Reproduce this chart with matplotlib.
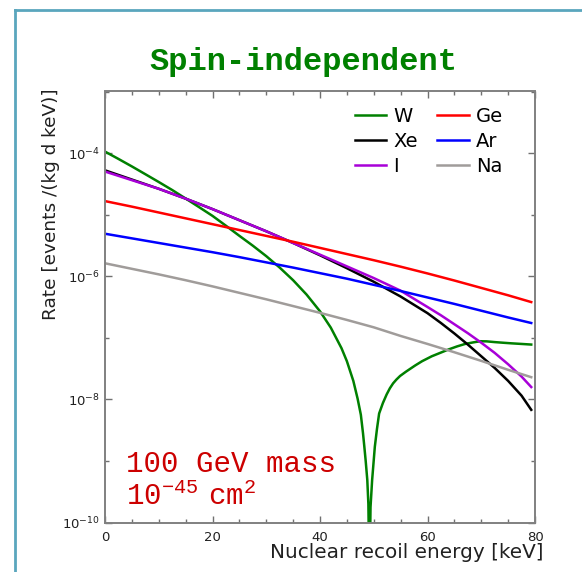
import numpy as np
import matplotlib
matplotlib.use("Agg")
import matplotlib.pyplot as plt
from matplotlib.lines import Line2D
from matplotlib.ticker import FixedLocator, NullFormatter

plt.rcParams['mathtext.rm'] = 'Liberation Mono'

# Recoil spectra (log10 of rate in events/(kg d keV)) versus recoil energy in keV
energy = [0, 5, 10, 15, 20, 25, 30, 35, 40, 45, 50, 55, 60, 65, 70, 75, 79.3]
log_ge = [-4.78, -4.87, -4.965, -5.06, -5.155, -5.25, -5.345, -5.44, -5.54, -5.64,
          -5.74, -5.845, -5.955, -6.07, -6.19, -6.31, -6.42]
log_ar = [-5.31, -5.385, -5.46, -5.535, -5.61, -5.69, -5.775, -5.86, -5.95, -6.04,
          -6.14, -6.24, -6.345, -6.45, -6.56, -6.67, -6.76]
log_na = [-5.79, -5.88, -5.97, -6.065, -6.165, -6.27, -6.375, -6.485, -6.595, -6.71,
          -6.83, -6.97, -7.10, -7.235, -7.375, -7.52, -7.64]

# Xenon and iodine bend down faster at high energy, so they are sampled more finely there
energy_heavy = [0, 5, 10, 15, 20, 25, 30, 35, 40, 45, 50, 55, 60, 62.5, 65, 67.5,
                70, 72.5, 75, 77.5, 79.3]
log_xe = [-4.28, -4.43, -4.58, -4.74, -4.91, -5.09, -5.27, -5.46, -5.66, -5.87,
          -6.09, -6.33, -6.60, -6.76, -6.93, -7.11, -7.30, -7.49, -7.70, -7.94, -8.17]
log_i = [-4.30, -4.44, -4.58, -4.74, -4.91, -5.09, -5.27, -5.46, -5.65, -5.84,
         -6.03, -6.235, -6.50, -6.635, -6.78, -6.925, -7.08, -7.245, -7.43, -7.63, -7.80]

# Tungsten has a form-factor zero near 49 keV
energy_w = [0, 2.5, 5, 7.5, 10, 12.5, 15, 17.5, 20, 22.5, 25, 27.5, 30, 32.5, 35,
            37.5, 40, 42, 44, 45, 46.2, 47, 47.6, 48.0, 48.25, 48.5, 48.8, 49.0,
            49.2, 49.4, 49.7, 50.2, 50.6, 51.0, 51.7, 52.4, 53.0, 53.6, 54.2, 54.9,
            56, 57.7, 59, 60.8, 62.5, 63.9, 65.5, 67, 68.5, 69.8, 71, 72.5, 74,
            75.6, 77.5, 79.3]
log_w = [-3.976, -4.095, -4.217, -4.343, -4.47, -4.60, -4.738, -4.878, -5.02, -5.18,
         -5.344, -5.504, -5.674, -5.86, -6.065, -6.298, -6.57, -6.834, -7.169, -7.38,
         -7.70, -7.99, -8.25, -8.55, -8.77, -9.0, -9.31, -9.7,
         -11.0, -9.75, -9.31, -8.77, -8.48, -8.23, -8.06, -7.92, -7.82, -7.74, -7.68,
         -7.62, -7.55, -7.45, -7.38, -7.30, -7.24, -7.19, -7.14, -7.10, -7.075,
         -7.056, -7.058, -7.07, -7.08, -7.09, -7.10, -7.11]

series = [
    ("W", energy_w, log_w, "#008000"),
    ("Xe", energy_heavy, log_xe, "#000000"),
    ("I", energy_heavy, log_i, "#a800d8"),
    ("Ge", energy, log_ge, "#ff0000"),
    ("Ar", energy, log_ar, "#0000ff"),
    ("Na", energy, log_na, "#a09c9a"),
]

x_major = [0, 20, 40, 60, 80]
y_labelled = [1e-10, 1e-8, 1e-6, 1e-4]
y_unlabelled = [1e-9, 1e-7, 1e-5, 1e-3]

fig = plt.figure(figsize=(5.82, 5.72), dpi=100)
ax = fig.add_axes([105 / 582, 1 - 522.5 / 572, 430 / 582, 431 / 572])

for name, e, lr, col in series:
    ax.plot(e, 10.0 ** np.asarray(lr), color=col, lw=1.8, label=name,
            solid_joinstyle='round')

ax.set_yscale('log')
ax.set_xlim(0, 80)
ax.set_ylim(1e-10, 1e-3)

ax.xaxis.set_major_locator(FixedLocator(x_major))
ax.xaxis.set_minor_locator(FixedLocator(np.arange(0, 81, 5)))
ax.yaxis.set_major_locator(FixedLocator(y_labelled))
ax.yaxis.set_minor_locator(FixedLocator(y_unlabelled))
ax.yaxis.set_minor_formatter(NullFormatter())
ax.set_yticklabels([r'$10^{-10}$', r'$10^{-8}$', r'$10^{-6}$', r'$10^{-4}$'])
ax.tick_params(which='both', direction='in', top=True, right=True,
               color='#707070', labelsize=9.5, labelcolor='#202020')
ax.tick_params(axis='x', which='major', pad=6)
ax.tick_params(which='major', length=5, width=1)
ax.tick_params(which='minor', length=3, width=1)
for s in ax.spines.values():
    s.set_color('#808080')
    s.set_linewidth(1.4)

leg = ax.legend(ncol=2, loc='upper right', bbox_to_anchor=(1 - 16 / 430, 1),
                frameon=False, fontsize=14, handlelength=1.6, handletextpad=0.4,
                columnspacing=1.0, labelspacing=0.3, borderaxespad=0.4)

ax.text(0.05, 0.135, '100 GeV mass', transform=ax.transAxes,
        family='Liberation Mono', fontsize=21, color='#cc0000', va='center')
ax.text(0.05, 0.06, r'$\mathrm{10^{-45}\ cm^2}$', transform=ax.transAxes,
        fontsize=21, color='#cc0000', va='center', math_fontfamily='custom')

fig.text(303 / 582, 1 - 62 / 572, 'Spin-independent', family='Liberation Mono',
         weight='bold', fontsize=23, color='#008000', ha='center', va='center')
fig.text(51 / 582, 1 - 204 / 572, 'Rate [events /(kg d keV)]', rotation=90,
         fontsize=13.3, ha='center', va='center', color='#202020')
fig.text(543 / 582, 1 - 552 / 572, 'Nuclear recoil energy [keV]', fontsize=14.4,
         ha='right', va='center', color='#202020')

# Slide frame
frame_col = '#5aa6bd'
fig.add_artist(Line2D([14.5 / 582, 14.5 / 582], [0, 1 - 10 / 572],
                      transform=fig.transFigure, color=frame_col, lw=2))
fig.add_artist(Line2D([14.5 / 582, 1], [1 - 10 / 572, 1 - 10 / 572],
                      transform=fig.transFigure, color=frame_col, lw=2))

fig.savefig('out.png', dpi=100)
